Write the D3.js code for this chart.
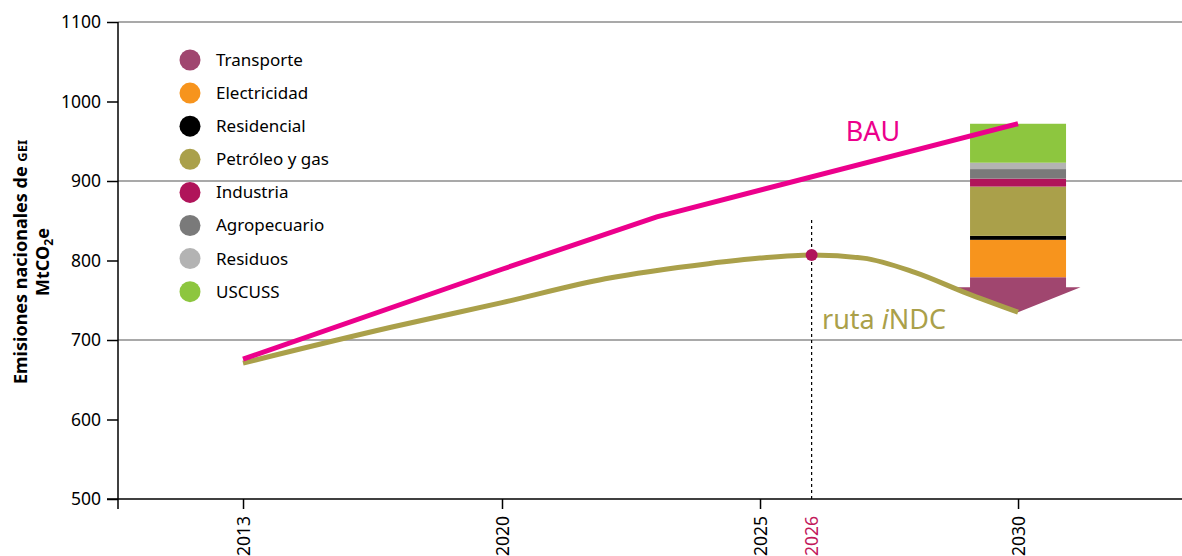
<!DOCTYPE html>
<html>
<head>
<meta charset="utf-8">
<script src="https://cdn.jsdelivr.net/npm/d3@7"></script>
<style>
  html, body { margin: 0; padding: 0; background: #fff; }
  svg { display: block; font-family: "Noto Sans", "Open Sans", sans-serif; }
</style>
</head>
<body>
<svg id="chart" width="1182" height="556"></svg>
<script>
// ---------- DATA ----------
const tickYears = [2013, 2020, 2025, 2026, 2030];
const yTicks = [500, 600, 700, 800, 900, 1000, 1100];
const gridValues = [700, 900, 1100];

const bauYears = [2013, 2020, 2023, 2030];
const bauValues = [676, 789, 855, 972];

const ndcYears = [2013, 2017, 2020, 2022, 2024, 2025, 2026, 2027, 2028, 2029, 2030];
const ndcValues = [671, 716, 747, 777, 796, 803, 807, 803, 785, 759, 735];

const sectorNames = ["Transporte", "Electricidad", "Residencial", "Petróleo y gas", "Industria", "Agropecuario", "Residuos", "USCUSS"];
const sectorValues = [44, 47, 5, 62, 10, 12, 8, 49];
const sectorColors = ["#a0466f", "#f7941d", "#000000", "#aaa04a", "#b0145a", "#7a7a7a", "#b3b3b3", "#8dc63f"];

const markerYear = 2026;
const markerTop = 851;
const barYear = 2030;

// ---------- LAYOUT ----------
const svg = d3.select("#chart");
const mLeft = 118, mRight = 1182, mTop = 22, mBottom = 499;
const W = mRight - mLeft;

const x = d3.scaleLinear()
  .domain([2013, 2020, 2030])
  .range([mLeft + W * 0.1175, mLeft + W * 0.3609, mLeft + W * 0.8459]);
const y = d3.scaleLinear().domain([500, 1100]).range([mBottom, mTop]);

const bauColor = "#ec008c";
const ndcColor = "#aaa04a";
const markColor = "#c2185b";

// gridlines
svg.append("g").selectAll("line").data(gridValues).join("line")
  .attr("x1", mLeft).attr("x2", mRight)
  .attr("y1", d => y(d)).attr("y2", d => y(d))
  .attr("stroke", "#8c8c8c").attr("stroke-width", 1.5);

// y axis
const yAxis = svg.append("g").attr("transform", `translate(${mLeft},0)`)
  .call(d3.axisLeft(y).tickValues(yTicks).tickSize(11).tickPadding(6).tickFormat(d3.format("d")));
yAxis.select(".domain").remove();
yAxis.selectAll(".tick line").attr("stroke", "#000").attr("stroke-width", 1.5);
yAxis.selectAll(".tick text").attr("font-size", 17.5).attr("fill", "#000")
  .attr("font-family", "Noto Sans");
svg.append("line").attr("x1", mLeft).attr("x2", mLeft).attr("y1", mTop).attr("y2", mBottom + 10)
  .attr("stroke", "#000").attr("stroke-width", 1.5);

// x axis
const xAxis = svg.append("g").attr("transform", `translate(0,${mBottom})`)
  .call(d3.axisBottom(x).tickValues(tickYears.filter(d => d !== markerYear)).tickSize(10).tickFormat(d3.format("d")));
xAxis.select(".domain").remove();
xAxis.selectAll(".tick line").attr("stroke", "#000").attr("stroke-width", 1.5);
xAxis.selectAll(".tick text")
  .attr("font-size", 17.5).attr("fill", "#000").attr("font-family", "Noto Sans")
  .attr("transform", "rotate(-90)")
  .attr("text-anchor", "end").attr("x", -17).attr("y", 0).attr("dy", "0.35em");
svg.append("line").attr("x1", 107).attr("x2", mRight).attr("y1", mBottom).attr("y2", mBottom)
  .attr("stroke", "#000").attr("stroke-width", 1.5);
// marker year label
svg.append("text")
  .attr("transform", `translate(${x(markerYear)},${mBottom + 17}) rotate(-90)`)
  .attr("text-anchor", "end").attr("dy", "0.35em")
  .attr("font-size", 17.5).attr("fill", markColor).text(markerYear);

// stacked bar with arrow
const barW = 96, arrowW = 125, arrowH = 25;
const base = ndcValues[ndcYears.indexOf(barYear)];
let cum = base;
const segs = sectorValues.map((v, i) => { const s = { y0: cum, y1: cum + v, color: sectorColors[i], i }; cum += v; return s; });
const bx = x(barYear);
const barG = svg.append("g");
segs.forEach(s => {
  if (s.i === 0) {
    const yTop = y(s.y1), yTip = y(s.y0), yShoulder = yTip - arrowH;
    const path = d3.path();
    path.moveTo(bx - barW / 2, yTop);
    path.lineTo(bx + barW / 2, yTop);
    path.lineTo(bx + barW / 2, yShoulder);
    path.lineTo(bx + arrowW / 2, yShoulder);
    path.lineTo(bx, yTip);
    path.lineTo(bx - arrowW / 2, yShoulder);
    path.lineTo(bx - barW / 2, yShoulder);
    path.closePath();
    barG.append("path").attr("d", path.toString()).attr("fill", s.color);
  } else {
    barG.append("rect")
      .attr("x", bx - barW / 2).attr("width", barW)
      .attr("y", y(s.y1)).attr("height", y(s.y0) - y(s.y1))
      .attr("fill", s.color);
  }
});

// dashed marker line
svg.append("line")
  .attr("x1", x(markerYear)).attr("x2", x(markerYear))
  .attr("y1", y(markerTop)).attr("y2", mBottom)
  .attr("stroke", "#000").attr("stroke-width", 1.2).attr("stroke-dasharray", "3,3");

// lines
const ndcData = ndcYears.map((d, i) => [d, ndcValues[i]]);
const bauData = bauYears.map((d, i) => [d, bauValues[i]]);
svg.append("path").datum(ndcData)
  .attr("d", d3.line().x(d => x(d[0])).y(d => y(d[1])).curve(d3.curveMonotoneX))
  .attr("fill", "none").attr("stroke", ndcColor).attr("stroke-width", 5);
svg.append("path").datum(bauData)
  .attr("d", d3.line().x(d => x(d[0])).y(d => y(d[1])))
  .attr("fill", "none").attr("stroke", bauColor).attr("stroke-width", 5);

// marker dot
svg.append("circle")
  .attr("cx", x(markerYear)).attr("cy", y(ndcValues[ndcYears.indexOf(markerYear)]))
  .attr("r", 6).attr("fill", "#b0145a");

// series labels
svg.append("text").attr("x", 873).attr("y", 141).attr("text-anchor", "middle")
  .attr("font-size", 27).attr("fill", bauColor).text("BAU");
const nd = svg.append("text").attr("x", 822).attr("y", 329)
  .attr("font-size", 27).attr("fill", ndcColor);
nd.append("tspan").text("ruta ");
nd.append("tspan").attr("font-style", "italic").text("i");
nd.append("tspan").text("NDC");

// legend
const lg = svg.append("g");
sectorNames.forEach((name, i) => {
  const ly = 60 + i * 33.1;
  lg.append("circle").attr("cx", 190).attr("cy", ly).attr("r", 10.5).attr("fill", sectorColors[i]);
  lg.append("text").attr("x", 216).attr("y", ly).attr("dy", "0.35em")
    .attr("font-size", 17).attr("fill", "#000").text(name);
});

// y axis title
const t1 = svg.append("text").attr("transform", "translate(27,262) rotate(-90)")
  .attr("text-anchor", "middle").attr("font-size", 18).attr("font-weight", "bold").attr("fill", "#000");
t1.append("tspan").text("Emisiones nacionales de ");
t1.append("tspan").attr("font-size", 13).text("GEI");
const t2 = svg.append("text").attr("transform", "translate(49,262) rotate(-90)")
  .attr("text-anchor", "middle").attr("font-size", 18).attr("font-weight", "bold").attr("fill", "#000");
t2.append("tspan").text("MtCO");
t2.append("tspan").attr("font-size", 12).attr("dy", 4).text("2");
t2.append("tspan").attr("dy", -4).text("e");
</script>
</body>
</html>
